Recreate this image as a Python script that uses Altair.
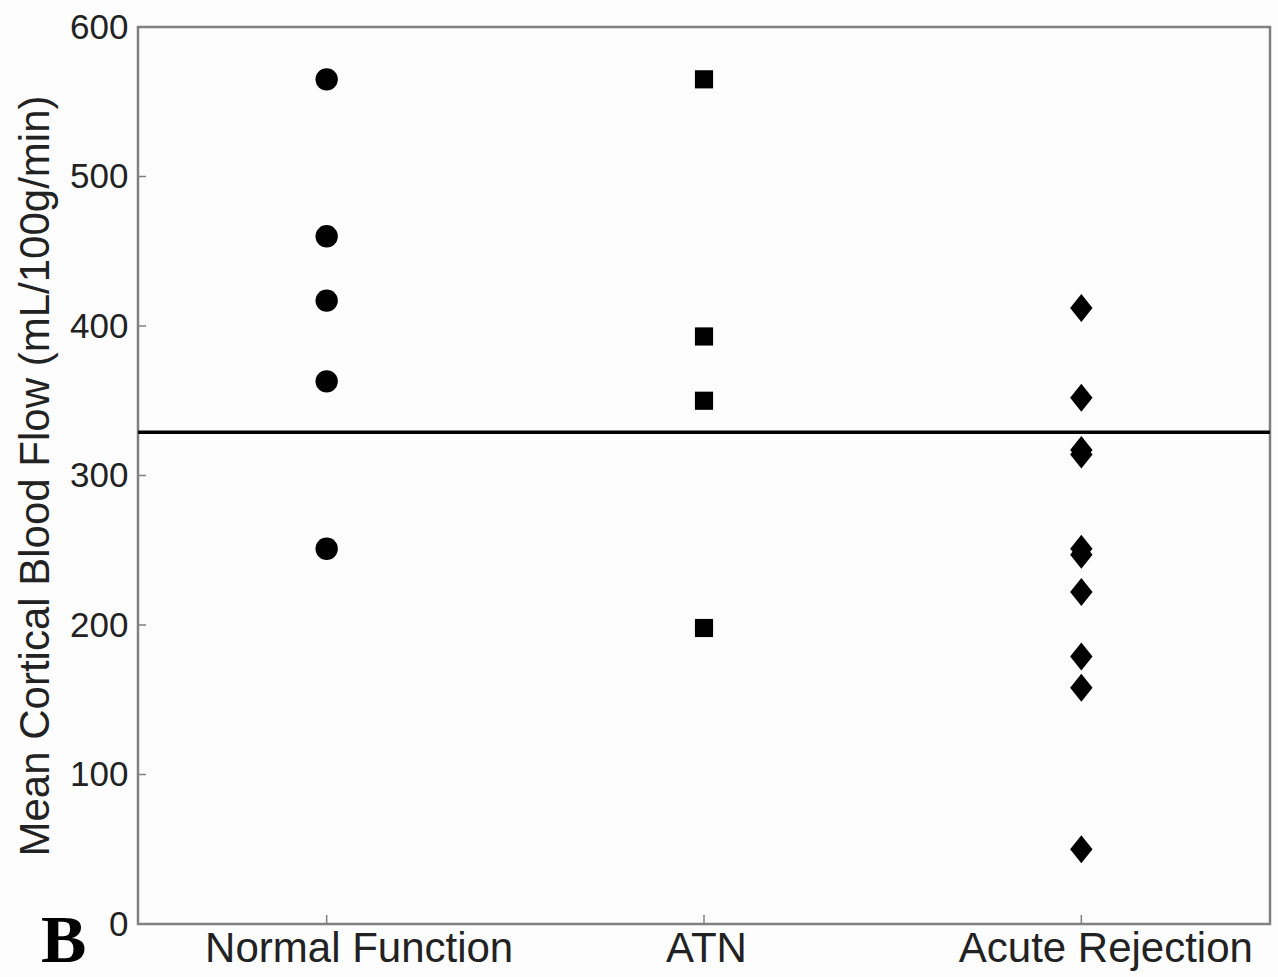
import altair as alt
import pandas as pd

categories = ["Normal Function", "ATN", "Acute Rejection"]
normal_values = [565, 460, 417, 363, 251]
atn_values = [565, 393, 350, 198]
rejection_values = [412, 352, 317, 314, 251, 247, 222, 179, 158, 50]
threshold_value = [329]
y_ticks = [0, 100, 200, 300, 400, 500, 600]
panel_label = ["B"]

rows = []
for cat, vals in zip(categories, [normal_values, atn_values, rejection_values]):
    for v in vals:
        rows.append({"group": cat, "flow": v})
df = pd.DataFrame(rows)

W, H = 1132, 897
GRAY = "#808080"

x_scale = alt.Scale(type="point", padding=0.5, domain=categories)
y_scale = alt.Scale(domain=[0, 600], nice=False, zero=True)

x_axis = alt.Axis(title=None, ticks=False, tickSize=0, domain=False, grid=False,
                  labelFontSize=42, labelFont="Liberation Sans", labelColor="#222222",
                  labelPadding=4, labelAngle=0, labelAlign="center",
                  labelBaseline="top", labelLimit=0, orient="bottom",
                  labelOffset={"condition": [
                      {"test": "datum.value === 'Normal Function'", "value": 32},
                      {"test": "datum.value === 'Acute Rejection'", "value": 24}],
                      "value": 2})
y_axis = alt.Axis(title="Mean Cortical Blood Flow (mL/100g/min)", values=y_ticks,
                  ticks=False, tickSize=0, domain=False, grid=False, orient="left",
                  labelFontSize=35, labelFont="Liberation Sans", labelColor="#222222",
                  labelPadding=10,
                  titleFontSize=42, titleFont="Liberation Sans", titleFontWeight="normal",
                  titleColor="#222222", titleX=-103, titleY=H / 2, titleAngle=270,
                  titleAlign="center", titleBaseline="middle")

points = alt.Chart(df).mark_point(filled=True, opacity=1, color="black").encode(
    x=alt.X("group:N", sort=categories, scale=x_scale, axis=x_axis),
    y=alt.Y("flow:Q", scale=y_scale, axis=y_axis),
    shape=alt.Shape("group:N", scale=alt.Scale(domain=categories,
                    range=["circle", "square", "M0,-1L0.8,0L0,1L-0.8,0Z"]), legend=None),
    size=alt.Size("group:N", scale=alt.Scale(type="ordinal", domain=categories,
                  range=[500, 330, 784]), legend=None),
)

line = alt.Chart(pd.DataFrame({"flow": threshold_value})).mark_rule(
    color="black", strokeWidth=3.5).encode(y=alt.Y("flow:Q", scale=y_scale, axis=y_axis))

ytick_rules = alt.Chart(pd.DataFrame({"flow": y_ticks})).mark_rule(
    color=GRAY, strokeWidth=1.5).encode(
    y=alt.Y("flow:Q", scale=y_scale, axis=y_axis), x=alt.value(0), x2=alt.value(8))

xtick_rules = alt.Chart(pd.DataFrame({"group": categories})).mark_rule(
    color=GRAY, strokeWidth=1.5).encode(
    x=alt.X("group:N", sort=categories, scale=x_scale, axis=x_axis),
    y=alt.value(H), y2=alt.value(H - 9))

label = alt.Chart(pd.DataFrame({"t": panel_label})).mark_text(
    font="Liberation Serif", fontWeight="bold", fontSize=68, align="left",
    baseline="alphabetic", color="black").encode(
    text="t:N", x=alt.value(-97), y=alt.value(935))

chart = alt.layer(points, ytick_rules, xtick_rules, line, label).properties(
    width=W, height=H,
    autosize=alt.AutoSizeParams(type="none"),
    padding={"left": 138, "top": 27, "right": 8, "bottom": 53},
    background="#fdfdfd",
).configure_view(stroke=GRAY, strokeWidth=2.5, fill="#fdfdfd")

chart.save("out.html", embed_options={"renderer": "svg", "actions": False})
